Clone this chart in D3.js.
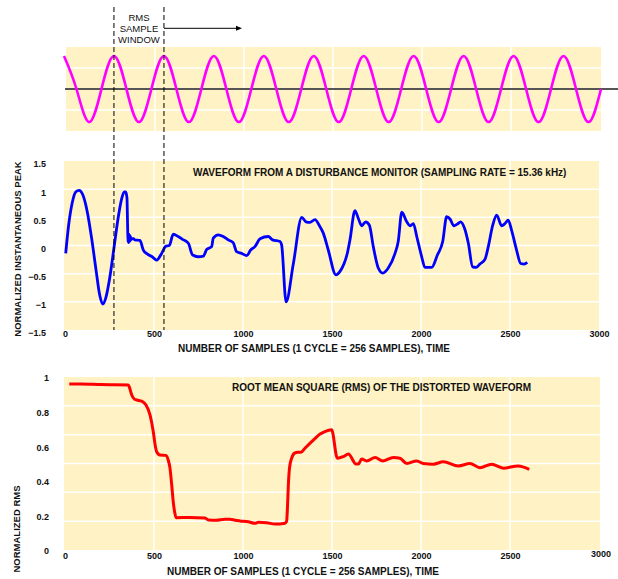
<!DOCTYPE html>
<html>
<head>
<meta charset="utf-8">
<script src="https://cdn.jsdelivr.net/npm/d3@7"></script>
<style>
body { margin: 0; background: #fff; }
text { font-family: "Liberation Sans", Arial, sans-serif; }
</style>
</head>
<body>
<svg width="618" height="579"></svg>
<script>
// reference sine (top strip), in cycles
var sineT = [0,0.25,0.5,0.75, 1,1.25,1.5,1.75, 2,2.25,2.5,2.75, 3,3.25,3.5,3.75, 4,4.25,4.5,4.75,
             5,5.25,5.5,5.75, 6,6.25,6.5,6.75, 7,7.25,7.5,7.75, 8,8.25,8.5,8.75, 9,9.25,9.5,9.75, 10,10.25,10.5,10.75];
var sineV = [1,0,-1,0, 1,0,-1,0, 1,0,-1,0, 1,0,-1,0, 1,0,-1,0,
             1,0,-1,0, 1,0,-1,0, 1,0,-1,0, 1,0,-1,0, 1,0,-1,0, 1,0,-1,0];

// disturbance waveform (samples, normalized peak)
var waveX = [4,20,40,60,79,100,125,150,175,195,212,230,250,277,300,320,333,341,348,352,354,
             356,358,360,362,364,366,368,370,374,385,393,421,440,462,490,515,543,567,586,608,636,660,
             693,717,749,777,796,824,833,861,889,917,945,964,992,1021,1043,1067,1096,1142,1166,1208,1217,
             1242,1283,1330,1354,1376,1404,1433,1451,1479,1522,1545,1588,1601,1629,1648,1667,1689,1710,
             1732,1760,1785,1816,1854,1872,1892,1920,1938,1957,1976,2004,2022,2060,2092,2122,2144,2163,
             2185,2204,2223,2243,2266,2290,2309,2331,2360,2378,2403,2425,2453,2472,2490,2509,2537,2560,2579,2597];
var waveY = [-0.14,0.35,0.75,0.95,0.98,0.9,0.6,0.12,-0.45,-0.88,-1.04,-0.92,-0.6,0,0.52,0.85,0.95,0.95,0.85,0.3,0.06,
             0.2,0.05,0.2,0.07,0.18,0.08,0.16,0.1,0.12,0.12,0.1,0.09,-0.08,-0.15,-0.2,-0.26,-0.14,-0.01,0,0.2,0.16,0.11,
             0.04,-0.17,-0.2,-0.19,-0.07,-0.02,0.13,0.19,0.16,0.1,0.05,-0.11,-0.14,-0.18,-0.08,-0.02,0.12,0.16,0.1,0.07,0.01,
             -1.0,-0.32,0.5,0.42,0.41,0.46,0.33,0.22,-0.08,-0.52,-0.46,-0.11,0.1,0.62,0.48,0.35,0.42,0.36,
             -0.02,-0.4,-0.49,-0.4,-0.14,0.07,0.59,0.42,0.35,0.39,0.16,-0.2,-0.39,-0.39,-0.17,0.07,0.51,0.47,
             0.35,0.38,0.42,0.32,0.04,-0.38,-0.39,-0.33,-0.24,-0.02,0.36,0.54,0.35,0.39,0.45,0.27,-0.08,-0.32,-0.33,-0.3];

// RMS of the distorted waveform
var rmsX = [24,94,200,356,362,375,390,403,431,455,478,496,506,515,534,567,580,590,600,608,616,624,
            700,787,805,850,899,927,955,983,1030,1067,1086,1133,1180,1236,1245,1250,1255,1262,1273,1290,
            1307,1326,1348,1395,1433,1451,1475,1498,1530,1564,1592,1635,1648,1667,1695,1742,1785,1845,
            1882,1920,1976,2013,2069,2125,2210,2275,2331,2397,2462,2546,2608];
var rmsY = [0.96,0.96,0.956,0.954,0.94,0.896,0.872,0.867,0.86,0.838,0.78,0.684,0.61,0.568,0.549,0.547,0.52,0.472,0.37,0.28,0.22,0.187,
            0.188,0.185,0.173,0.172,0.178,0.178,0.172,0.168,0.163,0.154,0.16,0.158,0.15,0.155,0.165,0.25,0.38,0.48,0.53,0.56,
            0.565,0.565,0.588,0.635,0.67,0.68,0.69,0.695,0.53,0.54,0.555,0.497,0.497,0.526,0.515,0.534,0.515,0.535,
            0.53,0.5,0.515,0.5,0.496,0.51,0.486,0.5,0.476,0.496,0.473,0.486,0.466];

var xTicks = [0,500,1000,1500,2000,2500,3000];
var peakTicks = [-1.5,-1,-0.5,0,0.5,1,1.5];
var rmsTicks = [0,0.2,0.4,0.6,0.8,1];
var windowEdges = [275,556];

var svg = d3.select("svg");
var bg = "#fff2c4";

var x = d3.scaleLinear().domain([0,3000]).range([65,599]);

function styleAxis(g) {
    g.select(".domain").remove();
    g.attr("font-family", null).attr("font-size", null);
    g.selectAll("text").attr("fill", "#111").style("font-size", "9px").style("font-weight", "bold");
}

// ---------- top strip ----------
var tx = d3.scaleLinear().domain([0,10.75]).range([64,601]);
var ty = d3.scaleLinear().domain([-1.27,1.27]).range([131,47]);

svg.append("rect").attr("x",66).attr("y",47).attr("width",535).attr("height",84).attr("fill",bg);
svg.append("g").selectAll("line").data(xTicks.slice(1,-1)).enter().append("line")
    .attr("x1", function(d){ return x(d)+1; }).attr("x2", function(d){ return x(d)+1; })
    .attr("y1",47).attr("y2",131).attr("stroke","#fff").attr("stroke-width",1.5);
svg.append("g").selectAll("line").data([-0.635,0.635]).enter().append("line")
    .attr("x1",66).attr("x2",601)
    .attr("y1", function(d){ return ty(d); }).attr("y2", function(d){ return ty(d); })
    .attr("stroke","#fff").attr("stroke-width",1.5);
svg.append("line").attr("x1",65).attr("x2",618).attr("y1",ty(0)).attr("y2",ty(0))
    .attr("stroke","#555").attr("stroke-width",2);

var sineLine = d3.line()
    .x(function(d){ return tx(d[0]); })
    .y(function(d){ return ty(d[1]); })
    .curve(d3.curveNatural);
svg.append("path").datum(d3.zip(sineT, sineV)).attr("d", sineLine)
    .attr("fill","none").attr("stroke","#ff00ff").attr("stroke-width",2.6);

// ---------- middle panel ----------
var yP = d3.scaleLinear().domain([-1.5,1.5]).range([330,161]);

svg.append("rect").attr("x",64).attr("y",161).attr("width",535).attr("height",169).attr("fill",bg);
svg.append("g").selectAll("line").data(xTicks.slice(1,-1)).enter().append("line")
    .attr("x1", function(d){ return x(d); }).attr("x2", function(d){ return x(d); })
    .attr("y1",161).attr("y2",330).attr("stroke","#fff").attr("stroke-width",1.5);
svg.append("g").selectAll("line").data(peakTicks.slice(1,-1)).enter().append("line")
    .attr("x1",64).attr("x2",599)
    .attr("y1", function(d){ return yP(d); }).attr("y2", function(d){ return yP(d); })
    .attr("stroke","#fff").attr("stroke-width",1.5);

var waveLine = d3.line()
    .x(function(d){ return x(d[0]); })
    .y(function(d){ return yP(d[1]); })
    .curve(d3.curveMonotoneX);
svg.append("path").datum(d3.zip(waveX, waveY)).attr("d", waveLine)
    .attr("fill","none").attr("stroke","#0000ff").attr("stroke-width",2.8).attr("stroke-linejoin","round");

svg.append("g").attr("transform","translate(0,330)")
    .call(d3.axisBottom(x).tickValues(xTicks).tickSize(0).tickPadding(1).tickFormat(d3.format("d")))
    .call(styleAxis);
svg.append("g").attr("transform","translate(64,3)")
    .call(d3.axisLeft(yP).tickValues(peakTicks).tickSize(0).tickPadding(18).tickFormat(d3.format("")))
    .call(styleAxis);

svg.append("text").attr("x",193).attr("y",176).style("font-size","10px").style("font-weight","bold")
    .attr("fill","#111").text("WAVEFORM FROM A DISTURBANCE MONITOR (SAMPLING RATE = 15.36 kHz)");
svg.append("text").attr("x",178).attr("y",351.5).style("font-size","10px").style("font-weight","bold")
    .attr("fill","#111").text("NUMBER OF SAMPLES (1 CYCLE = 256 SAMPLES), TIME");
svg.append("text").attr("transform","translate(20.5,249) rotate(-90)").attr("text-anchor","middle")
    .style("font-size","9.5px").style("font-weight","bold").attr("fill","#111")
    .text("NORMALIZED INSTANTANEOUS PEAK");

// ---------- bottom panel ----------
var yR = d3.scaleLinear().domain([0,1]).range([550,377]);

svg.append("rect").attr("x",64).attr("y",377).attr("width",536).attr("height",173).attr("fill",bg);
svg.append("g").selectAll("line").data(xTicks.slice(1,-1)).enter().append("line")
    .attr("x1", function(d){ return x(d); }).attr("x2", function(d){ return x(d); })
    .attr("y1",377).attr("y2",550).attr("stroke","#fff").attr("stroke-width",1.5);
svg.append("g").selectAll("line").data([1,2,3,4,5]).enter().append("line")
    .attr("x1",64).attr("x2",600)
    .attr("y1", function(d){ return yR(d/6); }).attr("y2", function(d){ return yR(d/6); })
    .attr("stroke","#fff").attr("stroke-width",1.5);

var rmsLine = d3.line()
    .x(function(d){ return x(d[0]); })
    .y(function(d){ return yR(d[1]); })
    .curve(d3.curveMonotoneX);
svg.append("path").datum(d3.zip(rmsX, rmsY)).attr("d", rmsLine)
    .attr("fill","none").attr("stroke","#ff0000").attr("stroke-width",3).attr("stroke-linejoin","round");

svg.append("g").attr("transform","translate(0,550)")
    .call(d3.axisBottom(x).tickValues(xTicks).tickSize(0).tickPadding(2.6).tickFormat(d3.format("d")))
    .call(styleAxis)
    .selectAll(".tick").filter(function(d){ return d === 3000; })
    .attr("transform","translate(" + (x(3000)+2) + ",-2)");
svg.append("g").attr("transform","translate(64,1)")
    .call(d3.axisLeft(yR).tickValues(rmsTicks).tickSize(0).tickPadding(15).tickFormat(d3.format("")))
    .call(styleAxis);

svg.append("text").attr("x",232).attr("y",391).style("font-size","10px").style("font-weight","bold")
    .attr("fill","#111").text("ROOT MEAN SQUARE (RMS) OF THE DISTORTED WAVEFORM");
svg.append("text").attr("x",167).attr("y",575).style("font-size","10px").style("font-weight","bold")
    .attr("fill","#111").text("NUMBER OF SAMPLES (1 CYCLE = 256 SAMPLES), TIME");
svg.append("text").attr("transform","translate(20,529) rotate(-90)").attr("text-anchor","middle")
    .style("font-size","9.5px").style("font-weight","bold").attr("fill","#111")
    .text("NORMALIZED RMS");

// ---------- RMS sample window ----------
svg.append("g").selectAll("line").data(windowEdges).enter().append("line")
    .attr("x1", function(d){ return x(d); }).attr("x2", function(d){ return x(d); })
    .attr("y1",7).attr("y2",330)
    .attr("stroke","#000").attr("stroke-width",1).attr("stroke-dasharray","5,3");

svg.append("g").selectAll("text").data(["RMS","SAMPLE","WINDOW"]).enter().append("text")
    .attr("x", (x(windowEdges[0]) + x(windowEdges[1])) / 2)
    .attr("y", function(d,i){ return 20.7 + i*11; })
    .attr("text-anchor","middle").style("font-size","9.5px").attr("fill","#111")
    .text(function(d){ return d; });

svg.append("line").attr("x1",x(windowEdges[1])).attr("x2",237).attr("y1",28.3).attr("y2",28.3)
    .attr("stroke","#000").attr("stroke-width",1);
svg.append("path").attr("d","M242,28.3L236,25.8L236,30.8Z").attr("fill","#000");
</script>
</body>
</html>
